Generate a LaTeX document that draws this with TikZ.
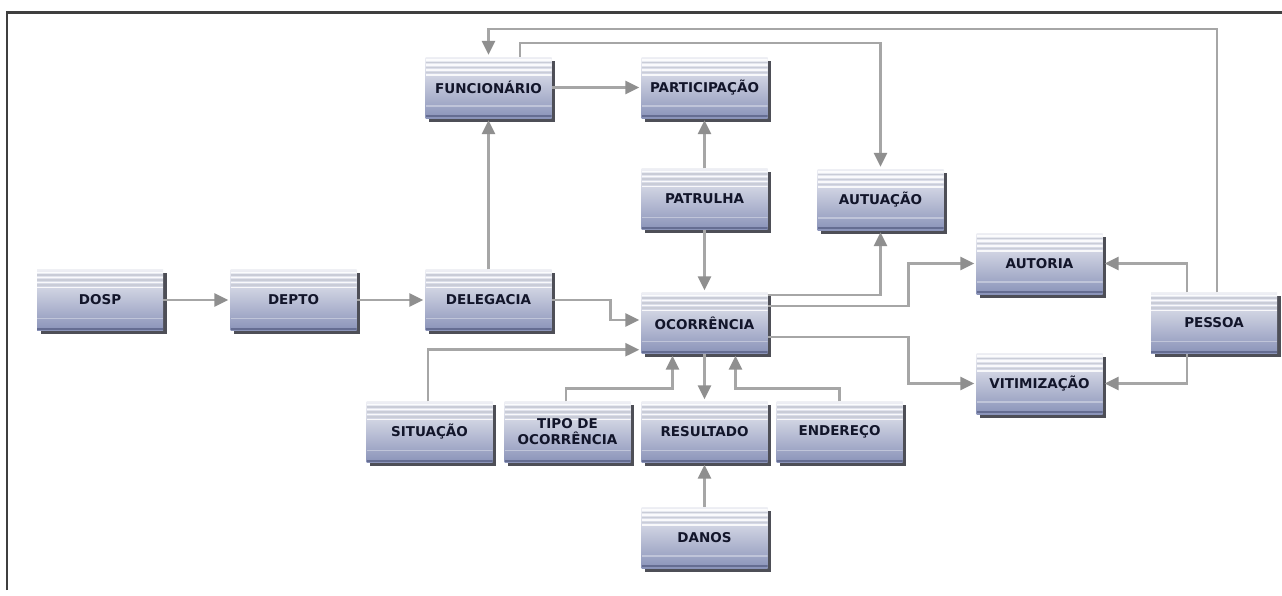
\documentclass[tikz,border=0pt]{standalone}
\usepackage{fontspec}
\newfontfamily\boxfont{DejaVu Sans}
\usetikzlibrary{arrows.meta,shadows}
\definecolor{framec}{HTML}{3F3F3F}
\definecolor{linec}{HTML}{A6A6A6}
\definecolor{arrowc}{HTML}{8F8F8F}
\definecolor{boxtop}{HTML}{EEEFF4}
\definecolor{boxmid}{HTML}{C4C8DE}
\definecolor{boxbot}{HTML}{8A93B9}
\definecolor{boxshadow}{HTML}{4E4F57}
\definecolor{boxtext}{HTML}{12152A}
\definecolor{stripegray}{HTML}{C9CCD7}
\definecolor{bottomline}{HTML}{656D92}
\tikzset{
  entity/.style={rectangle, minimum width=126pt, minimum height=61pt, inner sep=2pt,
    align=center, top color=boxtop, middle color=boxmid, bottom color=boxbot,
    text=boxtext, font=\boxfont\bfseries\fontsize{13.5}{16}\selectfont,
    drop shadow={shadow xshift=3.5pt, shadow yshift=-3.5pt, fill=boxshadow, opacity=1},
    path picture={
      \foreach \k in {3,8,13,18}
        \draw[white, line width=1.6pt, opacity=.85]
          ([yshift=-\k pt]path picture bounding box.north west) --
          ([yshift=-\k pt]path picture bounding box.north east);
      \foreach \k in {5.5,10.5,15.5}
        \draw[stripegray, line width=1.2pt]
          ([yshift=-\k pt]path picture bounding box.north west) --
          ([yshift=-\k pt]path picture bounding box.north east);
      \draw[white, opacity=.35, line width=1.5pt]
        ([yshift=12pt]path picture bounding box.south west) --
        ([yshift=12pt]path picture bounding box.south east);
      \draw[bottomline, line width=2pt]
        ([yshift=2pt]path picture bounding box.south west) --
        ([yshift=2pt]path picture bounding box.south east);
    }},
  conn/.style={draw=linec, line width=2.6pt, shorten >=2pt,
    -{Triangle[length=14pt, width=13pt, color=arrowc]}},
  framestyle/.style={draw=framec, line width=2.6pt}
}
\begin{document}
\begin{tikzpicture}[x=1pt, y=-1pt]
  \fill[white] (0,0) rectangle (1282,595);
  \useasboundingbox (0,0) rectangle (1282,595);
  \draw[framestyle] (7,590) -- (7,12.5) -- (1282,12.5);

  % nodes
  \node[entity] (func)   at (488.5,87.5) {FUNCIONÁRIO};
  \node[entity] (part)   at (704.5,87.5) {PARTICIPAÇÃO};
  \node[entity] (patr)   at (704.5,199)  {PATRULHA};
  \node[entity] (autu)   at (880.5,199.5){AUTUAÇÃO};
  \node[entity] (autor)  at (1039.5,263.5){AUTORIA};
  \node[entity] (pessoa) at (1214,323)   {PESSOA};
  \node[entity] (vitim)  at (1039.5,383.5){VITIMIZAÇÃO};
  \node[entity] (dosp)   at (100,300)    {DOSP};
  \node[entity] (depto)  at (293.5,300)  {DEPTO};
  \node[entity] (deleg)  at (488.5,300)  {DELEGACIA};
  \node[entity] (ocor)   at (704.5,323)  {OCORRÊNCIA};
  \node[entity] (situ)   at (429.5,432)  {SITUAÇÃO};
  \node[entity] (tipo)   at (567.5,432)  {TIPO DE\\OCORRÊNCIA};
  \node[entity] (resul)  at (704.5,432)  {RESULTADO};
  \node[entity] (ender)  at (839.5,432)  {ENDEREÇO};
  \node[entity] (danos)  at (704.5,537.5){DANOS};

  % connectors
  \draw[conn] (dosp.east) -- (depto.west);
  \draw[conn] (depto.east) -- (deleg.west);
  \draw[conn] (deleg.north) -- (func.south);
  \draw[conn] (deleg.east) -- ++(58.5,0) |- ([yshift=3pt]ocor.west);
  \draw[conn] (func.east) -- (part.west);
  \draw[conn] (patr.north) -- (part.south);
  \draw[conn] (patr.south) -- (ocor.north);
  \draw[conn] ([xshift=31.5pt]func.north) -- ++(0,-14) -| (autu.north);
  \draw[conn] ([xshift=3pt]pessoa.north) -- ++(0,-263.5) -| (func.north);
  \draw[conn] ([yshift=28pt]ocor.east) -| (autu.south);
  \draw[conn] ([yshift=17pt]ocor.east) -- ++(141,0) |- (autor.west);
  \draw[conn] ([yshift=-14pt]ocor.east) -- ++(141,0) |- (vitim.west);
  \draw[conn] ([xshift=-27pt]pessoa.north) |- (autor.east);
  \draw[conn] ([xshift=-27pt]pessoa.south) |- (vitim.east);
  \draw[conn] ([xshift=-1.5pt]situ.north) |- ([yshift=4pt]ocor.south west);
  \draw[conn] ([xshift=-1.5pt]tipo.north) -- ++(0,-13) -| ([xshift=-32pt]ocor.south);
  \draw[conn] (ocor.south) -- (resul.north);
  \draw[conn] (ender.north) -- ++(0,-13) -| ([xshift=31pt]ocor.south);
  \draw[conn] (danos.north) -- (resul.south);
\end{tikzpicture}
\end{document}
